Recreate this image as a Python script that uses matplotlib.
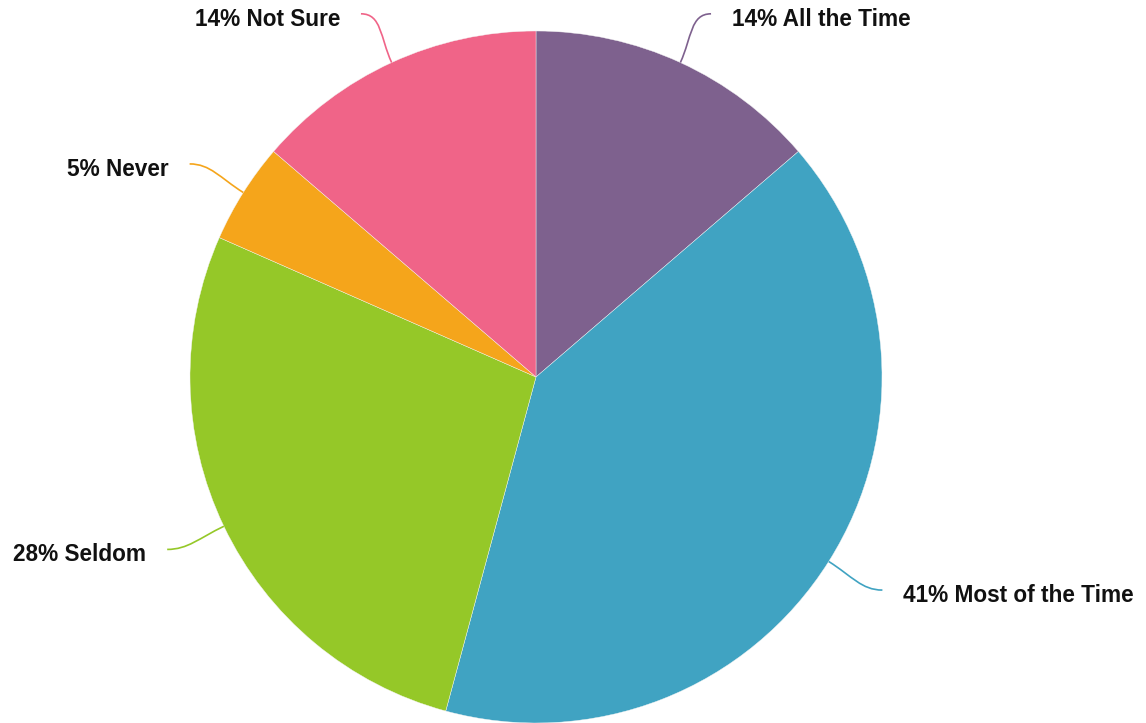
import numpy as np
import matplotlib.pyplot as plt
from matplotlib.path import Path
from matplotlib.patches import PathPatch

# data
labels = ['All the Time', 'Most of the Time', 'Seldom', 'Never', 'Not Sure']
shares = [13.7, 40.5, 27.4, 4.7, 13.7]
pct_labels = [14, 41, 28, 5, 14]
colors = ['#7E618E', '#40A3C2', '#95C828', '#F5A51B', '#F06488']

plt.rcParams['font.family'] = ['Liberation Sans', 'DejaVu Sans']

fig = plt.figure(figsize=(11.46, 7.23), dpi=100)
ax = fig.add_axes([0, 0, 1, 1])
R = 346.0

wedges, _ = ax.pie(shares, colors=colors, startangle=90, counterclock=False,
                   radius=1, center=(0, 0), wedgeprops=dict(linewidth=0.3, edgecolor='#f4f4f4'))

ax.set_xlim(-536 / R, (1146 - 536) / R)
ax.set_ylim(-(723 - 377) / R, 377 / R)
ax.set_aspect('equal')
ax.axis('off')

for w, lab, pct, col in zip(wedges, labels, pct_labels, colors):
    mid = np.deg2rad((w.theta1 + w.theta2) / 2)
    d = np.array([np.cos(mid), np.sin(mid)])
    side = 1 if d[0] >= 0 else -1
    p0 = d * 1.0
    p1 = d * 1.08
    p3 = d * 1.155 + np.array([side * 0.024, 0])
    p2 = p3 - np.array([side * 0.06, 0])
    path = Path([p0, p1, p2, p3], [Path.MOVETO, Path.CURVE4, Path.CURVE4, Path.CURVE4])
    ax.add_patch(PathPatch(path, fill=False, edgecolor=col, lw=1.2))
    ax.text(p3[0] + side * 0.06, p3[1] - 0.015, f'{pct}% {lab}',
            ha='left' if side > 0 else 'right', va='center',
            fontsize=16.3, fontweight='bold', color='#111111')

fig.savefig('out.png', dpi=100)
